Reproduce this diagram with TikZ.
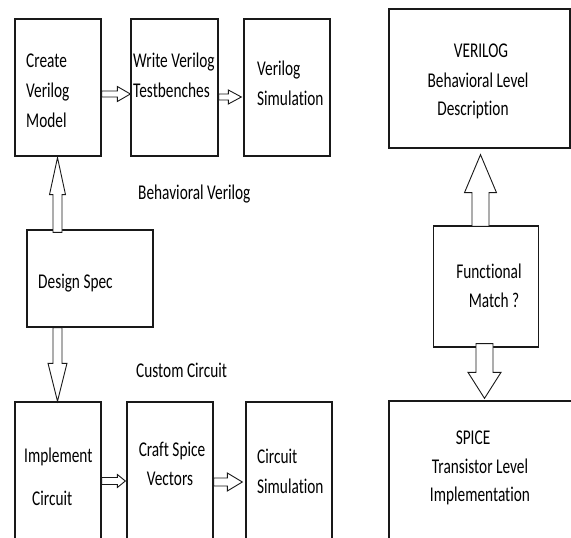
\documentclass[tikz,border=0pt]{standalone}
\usepackage{fontspec}
\usepackage{graphicx}
\setmainfont{Carlito}[Ligatures=NoCommon]
\usetikzlibrary{calc}

% narrow lettering used throughout the chart
\newcommand\sq[1]{\scalebox{0.73}[1]{#1}}

% outlined block arrow: [style] {start} {tip} {shaft half width} {head half width} {head length}
\newcommand\blockarrow[6][]{%
  \coordinate (ah) at ($(#3)!#6!(#2)$);
  \draw[blk,#1] ($(#2)!#4!90:(#3)$) -- ($(ah)!#4!90:(#3)$) -- ($(ah)!#5!90:(#3)$)
    -- (#3) -- ($(ah)!#5!-90:(#3)$) -- ($(ah)!#4!-90:(#3)$) -- ($(#2)!#4!-90:(#3)$) -- cycle;}

\tikzset{
  box/.style={draw=black!90, line width=1.3pt, inner sep=0pt, fill=white},
  txt/.style={inner sep=0pt, text=black, font=\fontsize{21}{29}\selectfont},
  blk/.style={draw=black!90, line width=0.9pt, fill=white, line join=miter},
}

\begin{document}
\begin{tikzpicture}[x=1pt,y=-1pt]
\clip (0,0) rectangle (571,538);
\fill[white] (0,0) rectangle (571,538);

% ---- Verilog flow ----
\node[box, minimum width=86pt, minimum height=137pt] (cvm)  at (58,87.5) {};
\node[box, minimum width=87pt, minimum height=137pt] (wvt)  at (174.5,87.5) {};
\node[box, minimum width=86pt, minimum height=137pt] (vsim) at (287,87.5) {};
\node[box, minimum width=126pt, minimum height=97pt] (ds)   at (90,278.5) {};

% ---- circuit flow ----
\node[box, minimum width=86pt, minimum height=143pt] (ic)   at (58,473.5) {};
\node[box, minimum width=86pt, minimum height=143pt] (csv)  at (170,473.5) {};
\node[box, minimum width=86pt, minimum height=143pt] (csim) at (289,473.5) {};

% ---- comparison column ----
\node[box, minimum width=181pt, minimum height=139pt] (vdesc) at (479.5,78.5) {};
\node[box, minimum width=105pt, minimum height=121pt] (fm)    at (486,286.5) {};
\node[box, minimum width=192pt, minimum height=144pt] (spice) at (485,473) {};

% ---- arrows ----
\blockarrow{cvm.east |- 0,94}{wvt.west |- 0,94}{3pt}{7.5pt}{13pt}
\blockarrow{wvt.east |- 0,97}{$(vsim.west |- 0,97)+(-2,0)$}{3pt}{7pt}{13pt}
\blockarrow{$(ds.north -| 57.5,0)+(0,3)$}{$(cvm.south -| 57.5,0)+(0,1)$}{4.5pt}{8pt}{37pt}
\blockarrow{ds.south -| 57.5,0}{ic.north -| 57.5,0}{4.5pt}{9.5pt}{38pt}
\blockarrow{ic.east |- 0,481}{$(csv.west |- 0,481)+(-1,0)$}{3.5pt}{6.5pt}{8pt}
\blockarrow{csv.east |- 0,482}{$(csim.west |- 0,482)+(-3,0)$}{4pt}{9pt}{15pt}
\blockarrow{$(fm.north -| 480.5,0)+(0,1)$}{$(vdesc.south -| 480.5,0)+(0,6)$}{8.5pt}{16pt}{38pt}
\blockarrow{$(fm.south -| 484.5,0)+(0,-4)$}{$(spice.north -| 484.5,0)+(0,-2)$}{8.5pt}{16.5pt}{26pt}

% ---- labels ----
\node[txt, anchor=base west] (cvm1) at (26,67)  {\sq{Create}};
\node[txt, anchor=base west] (cvm2) at (26,97)  {\sq{Verilog}};
\node[txt, anchor=base west] (cvm3) at (26,127) {\sq{Model}};

\node[txt, anchor=base west] (wvt1) at (133,67) {\sq{Write Verilog}};
\node[txt, anchor=base west] (wvt2) at (133,97) {\sq{Testbenches}};

\node[txt, anchor=base west] (vs1) at (257,75)  {\sq{Verilog}};
\node[txt, anchor=base west] (vs2) at (257,105) {\sq{Simulation}};

\node[txt, anchor=base west] (bv) at (138,199) {\sq{Behavioral Verilog}};
\node[txt, anchor=base west] (dsl) at (38,288) {\sq{Design Spec}};
\node[txt, anchor=base west] (cc) at (136,377) {\sq{Custom Circuit}};

\node[txt, anchor=base west] (ic1) at (24,462) {\sq{Implement}};
\node[txt, anchor=base west] (ic2) at (32,505) {\sq{Circuit}};

\node[txt, anchor=base] (csv1) at (172,456) {\sq{Craft Spice}};
\node[txt, anchor=base] (csv2) at (170,485) {\sq{Vectors}};

\node[txt, anchor=base west] (cs1) at (257,463) {\sq{Circuit}};
\node[txt, anchor=base west] (cs2) at (257,493) {\sq{Simulation}};

\node[txt, anchor=base] (vd1) at (481,57)  {\sq{VERILOG}};
\node[txt, anchor=base] (vd2) at (478,87)  {\sq{Behavioral Level}};
\node[txt, anchor=base] (vd3) at (473,115) {\sq{Description}};

\node[txt, anchor=base] (fm1) at (489,278) {\sq{Functional}};
\node[txt, anchor=base] (fm2) at (494,307) {\sq{Match ?}};

\node[txt, anchor=base] (sp1) at (473,444) {\sq{SPICE}};
\node[txt, anchor=base] (sp2) at (480,473) {\sq{Transistor Level}};
\node[txt, anchor=base] (sp3) at (480,501) {\sq{Implementation}};
\end{tikzpicture}
\end{document}
